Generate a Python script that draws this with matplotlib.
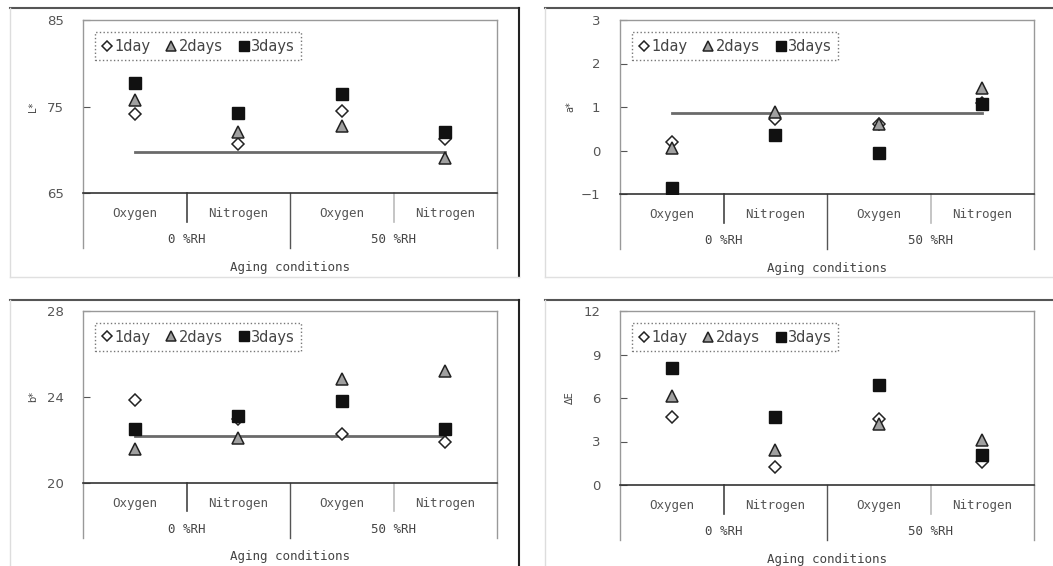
import numpy as np
import matplotlib
matplotlib.use("Agg")
import matplotlib.pyplot as plt
from matplotlib.lines import Line2D

# categories along the x axis
conditions = ["Oxygen", "Nitrogen", "Oxygen", "Nitrogen"]
humidity = ["0 %RH", "50 %RH"]
series = ["1day", "2days", "3days"]

# L*
L_1day = [74.1, 70.7, 74.5, 71.2]
L_2days = [75.8, 72.0, 72.8, 69.0]
L_3days = [77.7, 74.3, 76.4, 72.1]
L_ref = 69.7

# a*
a_1day = [0.2, 0.72, 0.6, 1.1]
a_2days = [0.05, 0.88, 0.6, 1.44]
a_3days = [-0.86, 0.35, -0.05, 1.08]
a_ref = 0.87

# b*
b_1day = [23.87, 23.0, 22.26, 21.9]
b_2days = [21.57, 22.07, 24.86, 25.2]
b_3days = [22.5, 23.1, 23.8, 22.5]
b_ref = 22.2

# delta E
E_1day = [4.68, 1.22, 4.56, 1.58]
E_2days = [6.14, 2.4, 4.24, 3.1]
E_3days = [8.1, 4.68, 6.92, 2.05]

W, H = 1053, 566
fig = plt.figure(figsize=(W / 100, H / 100), dpi=100)
fig.patch.set_facecolor("white")

MONO = "DejaVu Sans Mono"
TXT = "#444444"


def px_axes(left, right, top, bottom):
    return fig.add_axes([left / W, 1 - bottom / H, (right - left) / W, (bottom - top) / H])


def frame(x0, x1, y0, y1, dark_right=True):
    # scanned outer border of each panel
    kw = dict(transform=fig.transFigure, clip_on=False)
    fig.add_artist(Line2D([x0 / W, x1 / W], [1 - y0 / H, 1 - y0 / H], color="#555555", lw=1.5, **kw))
    fig.add_artist(Line2D([x0 / W, x0 / W], [1 - y0 / H, 1 - y1 / H], color="#dddddd", lw=1, **kw))
    if dark_right:
        fig.add_artist(Line2D([x1 / W, x1 / W], [1 - y0 / H, 1 - y1 / H], color="#222222", lw=1.5, **kw))
    fig.add_artist(Line2D([x0 / W, x1 / W], [1 - y1 / H, 1 - y1 / H], color="#e0e0e0", lw=1, **kw))


def panel(ax, d1, d2, d3, ylim, yticks, yticklabels, ylabel, ref=None, depth=0.318):
    x = np.arange(1, len(conditions) + 1)
    ax.set_xlim(0.5, len(conditions) + 0.5)
    ax.set_ylim(*ylim)
    if ref is not None:
        ax.plot([x[0], x[-1]], [ref, ref], color="#6a6a6a", lw=2, zorder=2)
    ax.plot(x, d1, ls="none", marker="D", ms=6.5, mfc="white", mec="#222222", mew=1.1,
            label=series[0], zorder=3)
    ax.plot(x, d2, ls="none", marker="^", ms=9, mfc="#a0a0a0", mec="#222222", mew=1.1,
            label=series[1], zorder=3)
    ax.plot(x, d3, ls="none", marker="s", ms=8.5, mfc="#111111", mec="#111111",
            label=series[2], zorder=4)

    ax.set_xticks([])
    ax.set_yticks(yticks)
    ax.set_yticklabels(yticklabels)
    ax.tick_params(axis="y", direction="in", length=5, color="#555555", pad=14,
                   labelsize=9.5, labelcolor="#555555")
    for s in ["left", "right", "top"]:
        ax.spines[s].set_color("#999999")
        ax.spines[s].set_linewidth(1)
    ax.spines["bottom"].set_color("#333333")
    ax.spines["bottom"].set_linewidth(1.2)

    tr = ax.transAxes
    n = len(conditions)
    # category box below the axis
    ax.plot([0, 0], [0, -depth], transform=tr, clip_on=False, color="#999999", lw=1)
    ax.plot([1, 1], [0, -depth], transform=tr, clip_on=False, color="#999999", lw=1)
    for i in range(1, n):
        xf = i / n
        if i % 2 == 0:
            ax.plot([xf, xf], [0, -depth], transform=tr, clip_on=False, color="#555555", lw=1)
        else:
            ax.plot([xf, xf], [0, -depth * 0.52], transform=tr, clip_on=False,
                    color="#444444" if i == 1 else "#bbbbbb", lw=1.2)
    for i, c in enumerate(conditions):
        ax.text((i + 0.5) / n, -0.12, c, transform=tr, ha="center", va="center",
                family=MONO, fontsize=9, color="#555555")
    for j, h in enumerate(humidity):
        ax.text((j + 0.5) / len(humidity), -0.27, h, transform=tr, ha="center", va="center",
                family=MONO, fontsize=9, color=TXT)
    ax.text(0.5, -0.43, "Aging conditions", transform=tr, ha="center", va="center",
            family=MONO, fontsize=9, color=TXT)
    ax.text(-0.12, 0.5, ylabel, transform=tr, ha="center", va="center", rotation=90,
            fontsize=7, color=TXT)

    leg = ax.legend(loc="upper left", bbox_to_anchor=(0.029, 0.93), ncol=3, fontsize=10.5,
                    handlelength=0.7, handletextpad=0.15, columnspacing=1.1, borderpad=0.45,
                    borderaxespad=0, markerscale=0.85, fancybox=False, framealpha=1)
    leg.get_frame().set_edgecolor("#777777")
    leg.get_frame().set_linestyle(":")
    leg.get_frame().set_linewidth(1)
    for t in leg.get_texts():
        t.set_color(TXT)


frame(10, 519, 8, 277)
frame(545, 1060, 8, 277, dark_right=False)
frame(10, 519, 300, 570)
frame(545, 1060, 300, 570, dark_right=False)

ax1 = px_axes(83, 497, 20, 193)
panel(ax1, L_1day, L_2days, L_3days, (65, 85), [65, 75, 85], ["65", "75", "85"], "L*", ref=L_ref)

ax2 = px_axes(620, 1034, 20, 194)
panel(ax2, a_1day, a_2days, a_3days, (-1, 3), [-1, 0, 1, 2, 3], ["\u22121", "0", "1", "2", "3"],
      "a*", ref=a_ref)

ax3 = px_axes(83, 497, 311, 483)
panel(ax3, b_1day, b_2days, b_3days, (20, 28), [20, 24, 28], ["20", "24", "28"], "b*", ref=b_ref)

ax4 = px_axes(620, 1034, 311, 485)
panel(ax4, E_1day, E_2days, E_3days, (0, 12), [0, 3, 6, 9, 12], ["0", "3", "6", "9", "12"], "\u0394E")

fig.savefig("out.png", dpi=100, facecolor="white")
